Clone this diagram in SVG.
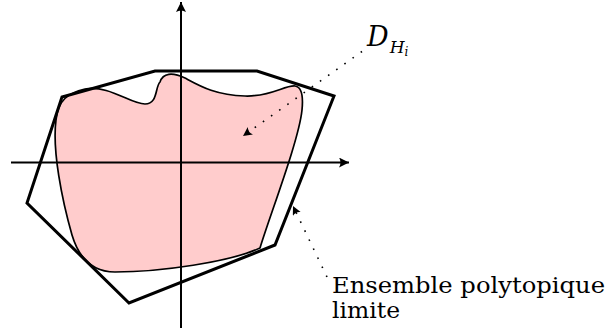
<svg xmlns="http://www.w3.org/2000/svg" width="611" height="329" viewBox="0 0 611 329">
<style>
.blob{fill:#ffcccc;stroke:#000;stroke-width:1.7;stroke-linejoin:round}
.poly{fill:none;stroke:#000;stroke-width:3;stroke-linejoin:miter}
.axis{fill:none;stroke:#000;stroke-width:2}
.dot{fill:none;stroke:#000;stroke-width:1.6;stroke-dasharray:1.6 8.4}
.txt{fill:#000;font-family:'DejaVu Serif','Liberation Serif',serif}
</style>
<defs>
<marker id="ah" markerWidth="12" markerHeight="12" refX="10" refY="5" orient="auto" markerUnits="userSpaceOnUse">
<path d="M10,5 L0,0 Q3,5 0,10 Z" fill="#000"/>
</marker>
<marker id="dh" markerWidth="12" markerHeight="12" refX="9" refY="4.5" orient="auto" markerUnits="userSpaceOnUse">
<path d="M9,4.5 L0,0 Q3,4.5 0,9 Z" fill="#000"/>
</marker>
</defs>
<g id="domain">
<path class="blob" d="M160,82 C163,73 172,72 185,78 C200,86 215,95 245,96 C270,97 285,85 295,86 C303,87 303,100 302,110 C299,140 270,215 260,248 C230,262 160,272 115,272 C90,272 78,255 72,235 C62,200 52,150 56,120 C58,100 68,93 85,89 C110,85 130,104 145,104 C158,104 155,87 160,82 Z"/>
</g>
<g id="polytope">
<polygon class="poly" points="155,71 257,71 334,96 275,245 129,303 27,203 62,97"/>
</g>
<g id="axes">
<line class="axis" x1="11" y1="162.5" x2="349" y2="162.5" marker-end="url(#ah)"/>
<line class="axis" x1="181" y1="328" x2="181" y2="2" marker-end="url(#ah)"/>
</g>
<g id="connectors">
<line class="dot" x1="362" y1="51.5" x2="243" y2="136" marker-end="url(#dh)"/>
<line class="dot" x1="327" y1="277" x2="293" y2="206" marker-end="url(#dh)"/>
</g>
<g id="label-D">
<text class="txt" x="367" y="46" font-size="27" font-style="italic">D<tspan font-size="17" dy="7" dx="1">H</tspan><tspan font-size="12" dy="3">i</tspan></text>
</g>
<g id="label-ensemble">
<text class="txt" x="332" y="293" font-size="23" textLength="273" lengthAdjust="spacingAndGlyphs">Ensemble polytopique</text>
<text class="txt" x="332" y="318" font-size="23" textLength="68" lengthAdjust="spacingAndGlyphs">limite</text>
</g>
</svg>
